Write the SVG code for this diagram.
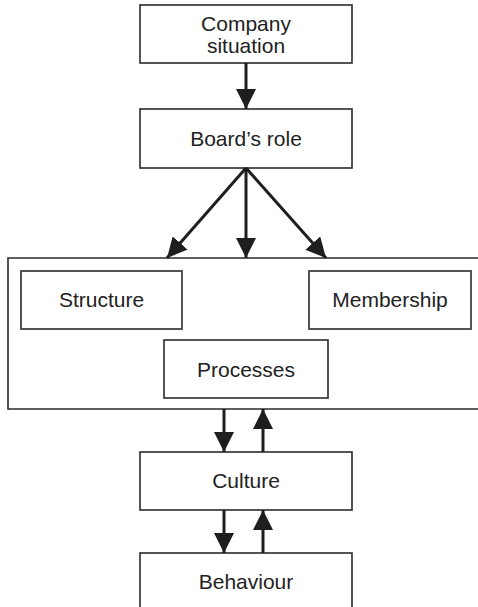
<svg xmlns="http://www.w3.org/2000/svg" width="478" height="607" viewBox="0 0 478 607">
  <style>
    .box { fill: #ffffff; stroke: #2b2b2b; stroke-width: 1.6; }
    .frame { fill: none; stroke: #2b2b2b; stroke-width: 1.6; }
    .label { font-family: "Liberation Sans", Arial, sans-serif; font-size: 21px; fill: #222222; text-anchor: middle; }
    .link { stroke: #1e1e1e; stroke-width: 3; fill: none; }
  </style>
  <defs>
    <marker id="head" viewBox="0 0 20 20" refX="20" refY="10" markerWidth="20" markerHeight="20" markerUnits="userSpaceOnUse" orient="auto">
      <path d="M0,0 L20,10 L0,20 Z" fill="#1e1e1e"/>
    </marker>
  </defs>

  <rect width="478" height="607" fill="#ffffff"/>

  <!-- outer frame holding the three board design elements -->
  <g id="design">
    <path class="frame" d="M480,258 H8 V409 H480"/>
  </g>

  <g id="company">
    <rect class="box" x="140" y="5" width="212" height="58"/>
    <text class="label" x="246" y="31">Company</text>
    <text class="label" x="246" y="53">situation</text>
  </g>

  <g id="board">
    <rect class="box" x="140" y="109" width="212" height="59"/>
    <text class="label" x="246" y="146">Board’s role</text>
  </g>

  <g id="structure">
    <rect class="box" x="21" y="271" width="161" height="58"/>
    <text class="label" x="101.5" y="307">Structure</text>
  </g>

  <g id="membership">
    <rect class="box" x="309" y="271" width="162" height="58"/>
    <text class="label" x="390" y="307">Membership</text>
  </g>

  <g id="processes">
    <rect class="box" x="164" y="340" width="164" height="58"/>
    <text class="label" x="246" y="377">Processes</text>
  </g>

  <g id="culture">
    <rect class="box" x="140" y="452" width="212" height="58"/>
    <text class="label" x="246" y="488">Culture</text>
  </g>

  <g id="behaviour">
    <rect class="box" x="140" y="553" width="212" height="60"/>
    <text class="label" x="246" y="589">Behaviour</text>
  </g>

  <g id="connectors">
    <line class="link" x1="246" y1="63" x2="246" y2="109" marker-end="url(#head)"/>
    <line class="link" x1="246" y1="168" x2="167" y2="258" marker-end="url(#head)"/>
    <line class="link" x1="246" y1="168" x2="246" y2="258" marker-end="url(#head)"/>
    <line class="link" x1="246" y1="168" x2="326" y2="258" marker-end="url(#head)"/>
    <line class="link" x1="224" y1="409" x2="224" y2="452" marker-end="url(#head)"/>
    <line class="link" x1="263" y1="452" x2="263" y2="409" marker-end="url(#head)"/>
    <line class="link" x1="224" y1="510" x2="224" y2="553" marker-end="url(#head)"/>
    <line class="link" x1="263" y1="553" x2="263" y2="510" marker-end="url(#head)"/>
  </g>
</svg>
